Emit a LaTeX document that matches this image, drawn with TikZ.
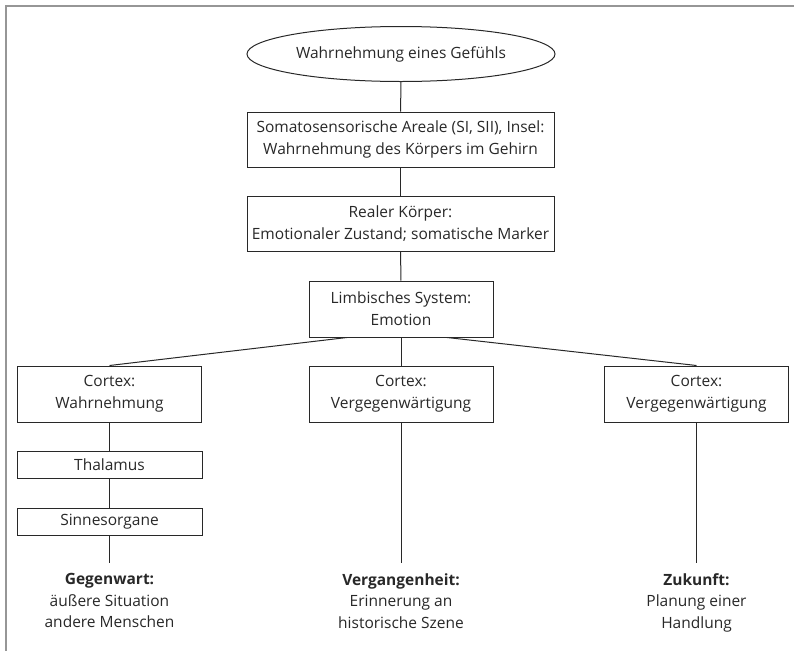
\documentclass[tikz,border=0pt]{standalone}
\usepackage{fontspec}
\setmainfont{Open Sans}
\usepackage{tikz}
\usetikzlibrary{shapes.geometric}
\definecolor{ink}{RGB}{40,40,40}
\definecolor{rahmen}{RGB}{150,150,150}

\tikzset{
	box/.style={draw=ink, line width=1pt, rectangle, align=center, text=ink, font=\fontsize{15.5}{22}\selectfont, inner sep=0pt},
	bigbox/.style={box, minimum width=307pt, minimum height=55pt},
	smallbox/.style={box, minimum width=184pt, minimum height=56pt},
	slimbox/.style={box, minimum width=185pt, minimum height=27pt},
	zeit/.style={align=center, text=ink, font=\fontsize{15.5}{21.5}\selectfont, anchor=north},
	verb/.style={draw=ink, line width=1pt}
}

\begin{document}
\begin{tikzpicture}[x=1pt,y=-1pt]
	\useasboundingbox (0,0) rectangle (794,651);
	\draw[rahmen, line width=1.5pt] (794,6) -- (6,6) -- (6,651);
	% obere Kette
	\node[box, ellipse, minimum width=308pt, minimum height=55pt] (gefuehl) at (401,54) {Wahrnehmung eines Gefühls};
	\node[bigbox] (soma) at (400.5,139.5) {Somatosensorische Areale (SI, SII), Insel:\\Wahrnehmung des Körpers im Gehirn};
	\node[bigbox] (koerper) at (400.5,224) {Realer Körper:\\Emotionaler Zustand; somatische Marker};
	\node[smallbox] (limbisch) at (401,309) {Limbisches System:\\Emotion};
	% drei Cortex-Boxen
	\node[smallbox] (cortexL) at (109.5,394) {Cortex:\\Wahrnehmung};
	\node[smallbox] (cortexM) at (401,394) {Cortex:\\Vergegenwärtigung};
	\node[smallbox] (cortexR) at (696.5,394) {Cortex:\\Vergegenwärtigung};
	\node[slimbox] (thalamus) at (109.5,464.5) {Thalamus};
	\node[slimbox] (sinne) at (109.5,521.5) {Sinnesorgane};
	% Enden der Linien
	\coordinate (endeL) at (109.5,563);
	\coordinate (endeM) at (401,563);
	\coordinate (endeR) at (696.5,563);
	\node[zeit] (gegenwart) at (109.5,570) {\textbf{Gegenwart:}\\äußere Situation\\andere Menschen};
	\node[zeit] (vergangenheit) at (401,570) {\textbf{Vergangenheit:}\\Erinnerung an\\historische Szene};
	\node[zeit] (zukunft) at (696.5,570) {\textbf{Zukunft:}\\Planung einer\\Handlung};
	% Verbindungen
	\draw[verb] (gefuehl) -- (soma);
	\draw[verb] (soma) -- (koerper);
	\draw[verb] (koerper) -- (limbisch);
	\draw[verb] (limbisch) -- (cortexM);
	\draw[verb] ([xshift=-54pt]limbisch.south) -- (cortexL.north);
	\draw[verb] ([xshift=46pt]limbisch.south) -- (cortexR.north);
	\draw[verb] (cortexL) -- (thalamus);
	\draw[verb] (thalamus) -- (sinne);
	\draw[verb] (sinne) -- (endeL);
	\draw[verb] (cortexM) -- (endeM);
	\draw[verb] (cortexR) -- (endeR);
\end{tikzpicture}
\end{document}
